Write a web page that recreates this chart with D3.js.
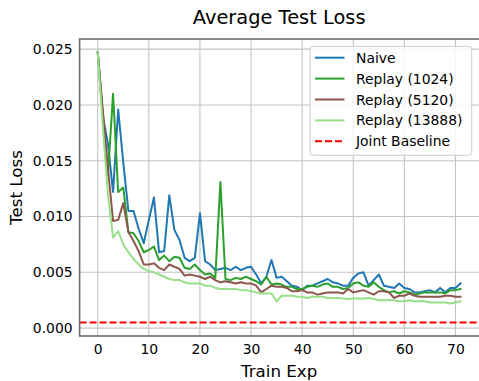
<!DOCTYPE html>
<html>
<head>
<meta charset="utf-8">
<script src="https://cdn.jsdelivr.net/npm/d3@7"></script>
<style>
  html, body { margin: 0; padding: 0; background: #fff; }
  svg { display: block; font-family: "DejaVu Sans", sans-serif; }
</style>
</head>
<body>
<svg id="chart" width="479" height="381"></svg>
<script>
const naive = [0.0247,0.0190,0.0165,0.0122,0.0196,0.0148,0.0105,0.0105,0.0089,0.0076,
  0.0097,0.0117,0.0068,0.0069,0.0119,0.0088,0.0079,0.0063,0.0060,0.0063,
  0.0103,0.0060,0.0057,0.0052,0.0053,0.0054,0.0052,0.0055,0.0052,0.0054,
  0.0055,0.0048,0.0040,0.0046,0.0061,0.0045,0.0046,0.0042,0.0038,0.0037,
  0.0034,0.0038,0.0038,0.0040,0.0042,0.0044,0.0041,0.0040,0.0038,0.0038,
  0.0045,0.0049,0.0050,0.0038,0.0043,0.0048,0.0038,0.0037,0.0036,0.0040,
  0.0036,0.0035,0.0032,0.0032,0.0033,0.0034,0.0032,0.0036,0.0032,0.0036,
  0.0036,0.0040];
const replay1024 = [0.0247,0.0190,0.0137,0.0210,0.0122,0.0126,0.0086,0.0085,0.0078,0.0068,
  0.0070,0.0073,0.0061,0.0065,0.0060,0.0064,0.0063,0.0054,0.0053,0.0057,
  0.0052,0.0048,0.0049,0.0045,0.0131,0.0044,0.0043,0.0045,0.0044,0.0046,
  0.0044,0.0042,0.0039,0.0046,0.0039,0.0040,0.0039,0.0037,0.0037,0.0035,
  0.0035,0.0037,0.0038,0.0037,0.0039,0.0040,0.0037,0.0037,0.0035,0.0036,
  0.0040,0.0041,0.0038,0.0037,0.0041,0.0037,0.0034,0.0032,0.0033,0.0031,
  0.0033,0.0032,0.0030,0.0031,0.0032,0.0032,0.0032,0.0032,0.0031,0.0034,
  0.0034,0.0035];
const replay5120 = [0.0247,0.0195,0.0143,0.0096,0.0097,0.0112,0.0086,0.0078,0.0069,0.0057,
  0.0057,0.0058,0.0054,0.0052,0.0057,0.0055,0.0053,0.0047,0.0048,0.0047,
  0.0046,0.0044,0.0046,0.0043,0.0041,0.0042,0.0041,0.0040,0.0041,0.0040,
  0.0040,0.0038,0.0032,0.0035,0.0038,0.0037,0.0037,0.0036,0.0033,0.0033,
  0.0034,0.0032,0.0032,0.0030,0.0031,0.0032,0.0032,0.0032,0.0031,0.0035,
  0.0032,0.0033,0.0034,0.0032,0.0030,0.0033,0.0033,0.0032,0.0027,0.0029,
  0.0029,0.0031,0.0029,0.0028,0.0028,0.0028,0.0028,0.0028,0.0029,0.0029,
  0.0028,0.0028];
const replay13888 = [0.0247,0.0180,0.0120,0.0081,0.0087,0.0075,0.0068,0.0062,0.0057,0.0053,
  0.0051,0.0050,0.0048,0.0046,0.0044,0.0043,0.0043,0.0041,0.0040,0.0040,
  0.0040,0.0038,0.0038,0.0036,0.0035,0.0035,0.0035,0.0035,0.0034,0.0034,
  0.0033,0.0032,0.0031,0.0031,0.0031,0.0024,0.0029,0.0029,0.0029,0.0028,
  0.0028,0.0027,0.0028,0.0028,0.0028,0.0027,0.0027,0.0027,0.00265,0.0026,
  0.00265,0.00265,0.00265,0.0027,0.0026,0.0025,0.0025,0.0025,0.0025,0.0024,
  0.0024,0.0025,0.0024,0.0024,0.0024,0.0023,0.0023,0.0023,0.0023,0.0022,
  0.0023,0.0024];
const jointBaseline = 0.0005;

const seriesNames = ["Naive", "Replay (1024)", "Replay (5120)", "Replay (13888)"];
const seriesColors = ["#1f77b4", "#2ca02c", "#8c564b", "#98df8a"];
const baselineName = "Joint Baseline";
const xTicks = [0, 10, 20, 30, 40, 50, 60, 70];
const yTicks = [0.000, 0.005, 0.010, 0.015, 0.020, 0.025];
const title = "Average Test Loss";
const xLabel = "Train Exp";
const yLabel = "Test Loss";

const seriesData = [naive, replay1024, replay5120, replay13888];

const svg = d3.select("#chart");
const pL = 79.6, pR = 478.7, pT = 39, pB = 336;

const nMax = naive.length - 1;
const xPad = nMax * 0.05;
const x = d3.scaleLinear().domain([-xPad, nMax + xPad]).range([pL, pR]);

const allVals = seriesData.flat().concat([jointBaseline]);
const yMin = d3.min(allVals), yMax = d3.max(allVals);
const yPad = (yMax - yMin) * 0.05;
const y = d3.scaleLinear().domain([yMin - yPad, yMax + yPad]).range([pB, pT]);

// grid
const grid = svg.append("g");
grid.selectAll(".gx").data(xTicks).enter().append("line")
  .attr("x1", d => x(d)).attr("x2", d => x(d))
  .attr("y1", pT).attr("y2", pB)
  .attr("stroke", "#c4c4c4").attr("stroke-width", 1.1);
grid.selectAll(".gy").data(yTicks).enter().append("line")
  .attr("x1", pL).attr("x2", 479)
  .attr("y1", d => y(d)).attr("y2", d => y(d))
  .attr("stroke", "#c4c4c4").attr("stroke-width", 1.1);

// axes (labels only)
const xAxis = d3.axisBottom(x).tickValues(xTicks).tickSize(0).tickPadding(8).tickFormat(d3.format("d"));
const gx = svg.append("g").attr("transform", `translate(0,${pB})`).call(xAxis);
gx.select(".domain").remove();
gx.selectAll("text").attr("font-size", 13.9).attr("fill", "#000").attr("font-family", "DejaVu Sans");

const yAxis = d3.axisLeft(y).tickValues(yTicks).tickSize(0).tickPadding(7).tickFormat(d3.format(".3f"));
const gy = svg.append("g").attr("transform", `translate(${pL},0)`).call(yAxis);
gy.select(".domain").remove();
gy.selectAll("text").attr("font-size", 13.9).attr("fill", "#000").attr("font-family", "DejaVu Sans");

// clip
svg.append("clipPath").attr("id", "clip").append("rect")
  .attr("x", pL).attr("y", pT).attr("width", 480 - pL).attr("height", pB - pT);

const plot = svg.append("g").attr("clip-path", "url(#clip)");

// baseline
plot.append("line")
  .attr("x1", pL).attr("x2", 480)
  .attr("y1", y(jointBaseline)).attr("y2", y(jointBaseline))
  .attr("stroke", "#ff0000").attr("stroke-width", 2).attr("stroke-dasharray", "7,3");

const line = d3.line().x((d, i) => x(i)).y(d => y(d));
seriesData.forEach((s, k) => {
  plot.append("path").datum(s)
    .attr("d", line)
    .attr("fill", "none")
    .attr("stroke", seriesColors[k])
    .attr("stroke-width", 2)
    .attr("stroke-linejoin", "round")
    .attr("stroke-linecap", "square");
});

// frame (right spine falls outside the picture)
svg.append("rect").attr("x", pL).attr("y", pT)
  .attr("width", 485 - pL).attr("height", pB - pT)
  .attr("fill", "none").attr("stroke", "#6b6b6b").attr("stroke-width", 1.6);

// title & labels
svg.append("text").attr("x", (pL + pR) / 2).attr("y", 24)
  .attr("text-anchor", "middle").attr("font-size", 19.4).attr("fill", "#000").text(title);
svg.append("text").attr("x", (pL + pR) / 2).attr("y", 377)
  .attr("text-anchor", "middle").attr("font-size", 16.7).attr("fill", "#000").text(xLabel);
svg.append("text").attr("transform", `translate(21.5,${(pT + pB) / 2}) rotate(-90)`)
  .attr("text-anchor", "middle").attr("font-size", 16.7).attr("fill", "#000").text(yLabel);

// legend
const lg = svg.append("g");
lg.append("rect").attr("x", 310).attr("y", 46.3).attr("width", 161.7).attr("height", 109)
  .attr("rx", 3).attr("fill", "#fff").attr("fill-opacity", 0.85)
  .attr("stroke", "#cccccc").attr("stroke-width", 1);
const legendItems = seriesNames.map((n, i) => ({name: n, color: seriesColors[i], dash: null}))
  .concat([{name: baselineName, color: "#ff0000", dash: "7,3"}]);
legendItems.forEach((it, i) => {
  const ly = 57.7 + i * 20.9;
  lg.append("line").attr("x1", 315).attr("x2", 344.5).attr("y1", ly).attr("y2", ly)
    .attr("stroke", it.color).attr("stroke-width", 2)
    .attr("stroke-dasharray", it.dash);
  lg.append("text").attr("x", 356).attr("y", ly + 5).attr("font-size", 13.9)
    .attr("fill", "#000").text(it.name);
});
</script>
</body>
</html>
